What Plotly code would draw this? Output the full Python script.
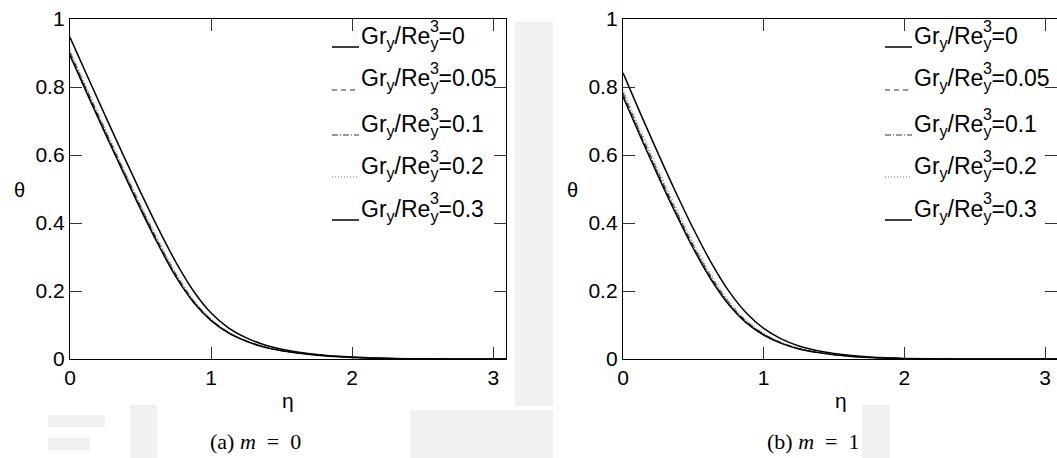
import plotly.graph_objects as go

W, H = 1057, 458

# similarity coordinate
eta = [0.0, 0.125, 0.25, 0.375, 0.5, 0.625, 0.75, 0.875, 1.0, 1.125, 1.25, 1.375,
       1.5, 1.625, 1.75, 1.875, 2.0, 2.25, 2.5, 2.75, 3.0, 3.1]

# temperature profiles, m = 0
theta_m0 = {
    "0.3":  [0.946, 0.830, 0.715, 0.602, 0.491, 0.384, 0.285, 0.200, 0.135, 0.091, 0.062, 0.042,
             0.0285, 0.0200, 0.0136, 0.0091, 0.0059, 0.0020, 0.0005, 0.0001, 0.0, 0.0],
    "0.2":  [0.909, 0.793, 0.678, 0.566, 0.456, 0.351, 0.255, 0.176, 0.119, 0.080, 0.0544, 0.0368,
             0.0253, 0.0177, 0.0119, 0.0079, 0.0051, 0.0017, 0.0004, 0.0001, 0.0, 0.0],
    "0.1":  [0.902, 0.7865, 0.672, 0.560, 0.450, 0.345, 0.250, 0.172, 0.1165, 0.0785, 0.0534, 0.0361,
             0.0248, 0.0173, 0.0116, 0.0077, 0.0049, 0.0016, 0.0004, 0.0001, 0.0, 0.0],
    "0.05": [0.898, 0.782, 0.667, 0.555, 0.446, 0.341, 0.246, 0.169, 0.1145, 0.0775, 0.0525, 0.0355,
             0.0244, 0.0170, 0.0114, 0.0075, 0.0048, 0.0015, 0.0004, 0.0001, 0.0, 0.0],
    "0":    [0.893, 0.777, 0.663, 0.551, 0.441, 0.337, 0.242, 0.167, 0.113, 0.076, 0.052, 0.035,
             0.0240, 0.0167, 0.0112, 0.0074, 0.0047, 0.0014, 0.0004, 0.0001, 0.0, 0.0],
}

# temperature profiles, m = 1
theta_m1 = {
    "0.3":  [0.842, 0.721, 0.604, 0.4905, 0.383, 0.285, 0.201, 0.136, 0.090, 0.059, 0.038, 0.025,
             0.016, 0.0100, 0.0061, 0.0035, 0.0018, 0.0005, 0.0001, 0.0, 0.0, 0.0],
    "0.2":  [0.793, 0.674, 0.558, 0.447, 0.343, 0.250, 0.173, 0.116, 0.0765, 0.050, 0.0322, 0.0212,
             0.0134, 0.0083, 0.0049, 0.0027, 0.0012, 0.0004, 0.0001, 0.0, 0.0, 0.0],
    "0.1":  [0.784, 0.664, 0.549, 0.4385, 0.335, 0.243, 0.168, 0.112, 0.0738, 0.048, 0.031, 0.0204,
             0.0129, 0.0079, 0.0047, 0.0025, 0.0011, 0.0003, 0.0001, 0.0, 0.0, 0.0],
    "0.05": [0.778, 0.659, 0.5435, 0.433, 0.330, 0.239, 0.1645, 0.1095, 0.0722, 0.047, 0.0303, 0.0200,
             0.0126, 0.0077, 0.0045, 0.0024, 0.0011, 0.0003, 0.0001, 0.0, 0.0, 0.0],
    "0":    [0.772, 0.653, 0.538, 0.428, 0.325, 0.2346, 0.161, 0.107, 0.0706, 0.046, 0.0296, 0.0195,
             0.0123, 0.0075, 0.0044, 0.0023, 0.0010, 0.0003, 0.0001, 0.0, 0.0, 0.0],
}

legend_order = ["0", "0.05", "0.1", "0.2", "0.3"]
x_ticks = [0, 1, 2, 3]
y_ticks = [0, 0.2, 0.4, 0.6, 0.8, 1]
y_tick_text = ["0", "0.2", "0.4", "0.6", "0.8", "1"]
panel_titles = ["(a) <i>m</i>\u2002=\u20020", "(b) <i>m</i>\u2002=\u20021"]

styles = {
    "0":    dict(color="black", width=1.5, dash="solid"),
    "0.05": dict(color="#333333", width=1.0, dash="5px,4px"),
    "0.1":  dict(color="#333333", width=1.0, dash="6px,2px,1px,2px"),
    "0.2":  dict(color="#777777", width=1.0, dash="1px,2px"),
    "0.3":  dict(color="black", width=1.5, dash="solid"),
}

FONT = "Liberation Sans, Arial, Helvetica, sans-serif"
SERIF = "Liberation Serif, Times New Roman, serif"


def px(x):
    return x / W


def py(y):
    return 1 - y / H


fig = go.Figure()

panels = [
    dict(data=theta_m0, xa="x", ya="y", left=70),
    dict(data=theta_m1, xa="x2", ya="y2", left=623),
]
top, bottom = 19, 359

for p in panels:
    for key in ["0.3", "0.2", "0.1", "0.05", "0"]:
        fig.add_trace(go.Scatter(
            x=eta, y=p["data"][key], mode="lines", line=styles[key],
            line_shape="spline", xaxis=p["xa"], yaxis=p["ya"],
            showlegend=False, hoverinfo="skip",
        ))

axis_common = dict(
    showline=True, linecolor="black", linewidth=1.3, mirror="allticks",
    ticks="inside", ticklen=12, tickwidth=1, tickcolor="#333333",
    showgrid=False, zeroline=False, automargin=False,
    tickfont=dict(family=FONT, size=21, color="black"),
)

fig.update_layout(
    xaxis=dict(domain=[px(70), px(506)], range=[0, 3.09], tickvals=x_ticks,
               anchor="y", **axis_common),
    yaxis=dict(domain=[py(bottom), py(top)], range=[0, 1], tickvals=y_ticks,
               ticktext=y_tick_text, anchor="x", **axis_common),
    xaxis2=dict(domain=[px(623), 1.0], range=[0, 3.085], tickvals=x_ticks,
                anchor="y2", **axis_common),
    yaxis2=dict(domain=[py(bottom), py(top)], range=[0, 1], tickvals=y_ticks,
                ticktext=y_tick_text, anchor="x2", **axis_common),
)

shapes = []
annotations = []

# faint background lettering behind the figure
wm = "#f0f0f0"
for x0, y0, x1, y1 in [(515, 22, 553, 406), (130, 405, 157, 458), (862, 405, 890, 458),
                       (48, 415, 105, 427), (48, 438, 90, 450), (410, 410, 553, 458)]:
    shapes.append(dict(type="rect", xref="paper", yref="paper", layer="below",
                       x0=px(x0), x1=px(x1), y0=py(y1), y1=py(y0),
                       fillcolor=wm, line=dict(width=0)))

# hand-built legend: line sample + label with stacked super/subscript
row_y = [47, 90, 135, 177, 220]
for p in panels:
    off = p["left"] - 70
    x0, x1, xt = 332 + off, 359 + off, 361 + off
    for key, yy in zip(legend_order, row_y):
        st = styles[key]
        shapes.append(dict(
            type="line", xref="paper", yref="paper",
            x0=px(x0), x1=px(x1), y0=py(yy), y1=py(yy),
            line=dict(color=st["color"], width=st["width"], dash=st["dash"]),
        ))
        annotations.append(dict(
            xref="paper", yref="paper", x=px(xt), y=py(yy - 10),
            xanchor="left", yanchor="middle", showarrow=False,
            borderpad=0, borderwidth=0,
            text="Gr<sub>y</sub>/Re<sub>y</sub>=" + key,
            font=dict(family=FONT, size=23, color="black"),
        ))
        annotations.append(dict(
            xref="paper", yref="paper", x=px(xt + 69.4), y=py(yy - 21),
            xanchor="left", yanchor="middle", showarrow=False,
            borderpad=0, borderwidth=0, text="3",
            font=dict(family=FONT, size=16, color="black"),
        ))

    # axis titles
    annotations.append(dict(
        xref="paper", yref="paper", x=px(p["left"] - 51), y=py(190),
        xanchor="center", yanchor="middle", showarrow=False, text="θ",
        font=dict(family=FONT, size=20, color="black"),
    ))
    annotations.append(dict(
        xref="paper", yref="paper", x=px(p["left"] + 218), y=py(400),
        xanchor="center", yanchor="middle", showarrow=False, text="η",
        font=dict(family=FONT, size=21, color="black"),
    ))

for title, cx in zip(panel_titles, [255, 813]):
    annotations.append(dict(
        xref="paper", yref="paper", x=px(cx), y=py(441),
        xanchor="center", yanchor="middle", showarrow=False, text=title,
        font=dict(family=SERIF, size=22, color="black"),
    ))

fig.update_layout(
    width=W, height=H, margin=dict(l=0, r=0, t=0, b=0),
    paper_bgcolor="white", plot_bgcolor="white",
    shapes=shapes, annotations=annotations, showlegend=False,
)

fig.write_html("out.html")
